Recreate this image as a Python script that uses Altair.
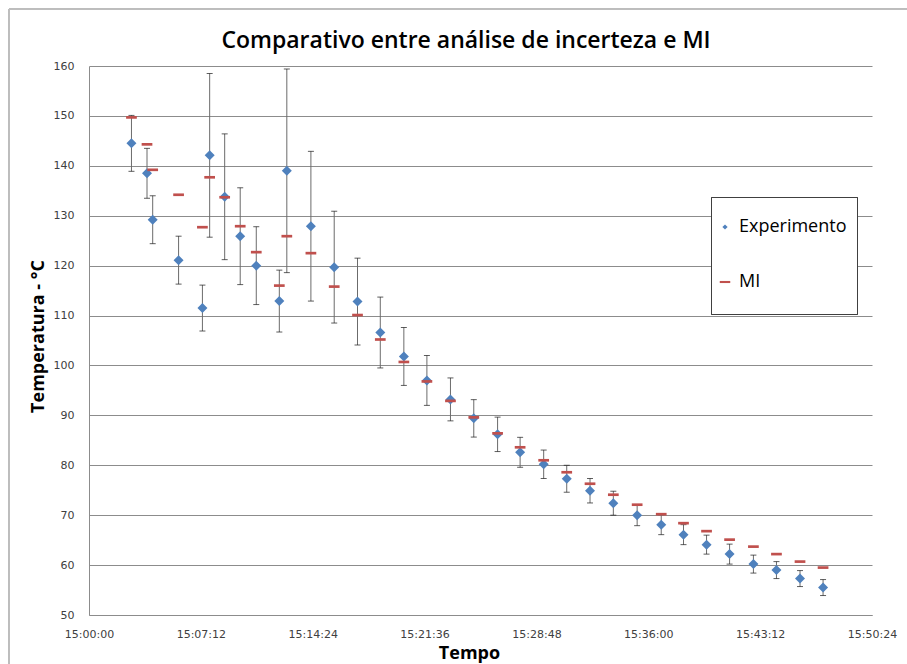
import altair as alt
import pandas as pd

# Sampling instants (clock time) of the cooling run
tempos = [
    "15:02:44", "15:03:44", "15:04:06", "15:05:46", "15:07:18", "15:07:46",
    "15:08:44", "15:09:44", "15:10:46", "15:12:15", "15:12:44", "15:14:17",
    "15:15:47", "15:17:17", "15:18:45", "15:20:16", "15:21:45", "15:23:16",
    "15:24:46", "15:26:18", "15:27:45", "15:29:16", "15:30:45", "15:32:15",
    "15:33:45", "15:35:17", "15:36:50", "15:38:16", "15:39:45", "15:41:14",
    "15:42:46", "15:44:15", "15:45:46", "15:47:15",
]

# Measured temperature (°C)
experimento = [
    144.5, 138.5, 129.2, 121.1, 111.5, 142.1, 133.8, 125.9, 120.0, 112.9,
    139.0, 127.9, 119.7, 112.8, 106.6, 101.8, 97.0, 93.2, 89.4, 86.2,
    82.6, 80.2, 77.3, 74.9, 72.4, 70.0, 68.1, 66.1, 64.1, 62.2,
    60.2, 59.0, 57.3, 55.5,
]

# Uncertainty (± °C) of each measurement
incerteza = [
    5.6, 5.0, 4.8, 4.8, 4.6, 16.4, 12.6, 9.7, 7.8, 6.2,
    20.4, 15.0, 11.2, 8.7, 7.1, 5.8, 5.0, 4.3, 3.75, 3.45,
    3.0, 2.85, 2.7, 2.45, 2.4, 2.1, 2.0, 2.0, 1.9, 2.0,
    1.8, 1.7, 1.6, 1.6,
]

# Temperature indicated by the MI
mi = [
    149.7, 144.3, 139.2, 134.2, 127.7, 137.7, 133.7, 127.9, 122.7, 116.0,
    125.9, 122.5, 115.8, 110.1, 105.2, 100.7, 96.8, 92.9, 89.6, 86.4,
    83.6, 81.0, 78.6, 76.3, 74.1, 72.1, 70.2, 68.4, 66.8, 65.1,
    63.7, 62.2, 60.7, 59.5,
]

titulo = "Comparativo entre análise de incerteza e MI"
series = ["Experimento", "MI"]
series_colors = ["#4F81BD", "#C0504D"]

x_ticks = list(range(0, 3025, 432))     # 15:00:00 ... 15:50:24, every 7:12
y_ticks = list(range(50, 161, 10))


def to_seconds(hms):
    h, m, s = (int(p) for p in hms.split(":"))
    return (h - 15) * 3600 + m * 60 + s


df = pd.DataFrame({
    "tempo": tempos,
    "seg": [to_seconds(t) for t in tempos],
    "exp": experimento,
    "inc": incerteza,
    "mi": mi,
})
df["lo"] = df["exp"] - df["inc"]
df["hi"] = df["exp"] + df["inc"]

LABEL_FONT = "DejaVu Sans"
TITLE_FONT = "Open Sans"
GRID = "#8c8c8c"

time_label = (
    "'15:' + (floor(datum.value / 60) < 10 ? '0' : '') + floor(datum.value / 60)"
    " + ':' + (datum.value % 60 < 10 ? '0' : '') + (datum.value % 60)"
)

x_axis = alt.Axis(
    values=x_ticks, labelExpr=time_label, title="Tempo", grid=False, ticks=False,
    labelFont=LABEL_FONT, labelFontSize=11, labelColor="#404040", labelPadding=13,
    labelFlush=False, labelOverlap=False,
    domainColor=GRID, domainWidth=1,
    titleFont=TITLE_FONT, titleFontSize=18, titleFontWeight="bold", titleColor="#000000",
    titleX=380, titleY=43, titleAlign="center", titleBaseline="alphabetic",
)
y_axis = alt.Axis(
    values=y_ticks, title="Temperatura - °C", grid=True, gridColor=GRID, gridWidth=1,
    ticks=False, labelFont=LABEL_FONT, labelFontSize=11, labelColor="#404040",
    labelPadding=15, domainColor=GRID, domainWidth=1,
    titleFont=TITLE_FONT, titleFontSize=18, titleFontWeight="bold", titleColor="#000000",
    titleX=-46, titleY=270, titleAngle=-90, titleAlign="center", titleBaseline="alphabetic",
)
x_scale = alt.Scale(domain=[0, 3024], nice=False, zero=False)
y_scale = alt.Scale(domain=[50, 160], nice=False, zero=False)


def xenc():
    return alt.X("seg:Q", scale=x_scale, axis=x_axis)


def yenc(field):
    return alt.Y(f"{field}:Q", scale=y_scale, axis=y_axis)


base = alt.Chart(df)

# Error bars: stem plus end caps
stems = base.mark_rule(color="#6b6b6b", strokeWidth=1).encode(
    x=xenc(), y=yenc("lo"), y2="hi:Q"
)
cap_lo = base.mark_tick(orient="horizontal", size=6, thickness=1, color="#1a1a1a").encode(
    x=xenc(), y=yenc("lo")
)
cap_hi = base.mark_tick(orient="horizontal", size=6, thickness=1, color="#1a1a1a").encode(
    x=xenc(), y=yenc("hi")
)

diamonds = base.mark_point(
    shape="diamond", filled=True, size=100, color=series_colors[0], opacity=1
).encode(x=xenc(), y=yenc("exp"))

dashes = base.mark_point(
    shape="M-1,-0.25H1V0.25H-1Z", filled=True, size=115, color=series_colors[1], opacity=1
).encode(x=xenc(), y=yenc("mi"))

# Legend frame (white box with dark border)
legend_box = alt.Chart(df).mark_rect(
    fill="white", stroke="#404040", strokeWidth=1
).encode(
    x=alt.value(622.5), x2=alt.value(768.5), y=alt.value(131.5), y2=alt.value(248.5)
)

legend_def = alt.Legend(
    title=None, orient="none", legendX=627, legendY=152, padding=0,
    labelFont=TITLE_FONT, labelFontSize=18, labelColor="#000000",
    symbolSize=110, symbolStrokeWidth=0, labelOffset=5, rowPadding=37,
)
legend_layer = alt.Chart(df).transform_filter("false").mark_point(
    filled=True, opacity=1
).encode(
    color=alt.Color("serie:N", scale=alt.Scale(domain=series, range=series_colors),
                    legend=legend_def),
    shape=alt.Shape("serie:N", scale=alt.Scale(
        domain=series,
        range=["M-0.5,0L0,-0.5L0.5,0L0,0.5Z", "M-1,-0.2H1V0.2H-1Z"]),
        legend=legend_def),
)

# Chart title, drawn as text above the plot area
title_text = alt.Chart(pd.DataFrame({"t": [titulo]})).mark_text(
    font=TITLE_FONT, fontSize=23, fontWeight=600, color="#000000",
    align="center", baseline="alphabetic",
).encode(text="t:N", x=alt.value(377), y=alt.value(-18.5))

# Outer frame of the chart area
frame_left = alt.Chart(df).mark_rule(color="#bdbdbd", strokeWidth=1).encode(
    x=alt.value(-80), y=alt.value(-57), y2=alt.value(620)
)
frame_top = alt.Chart(df).mark_rule(color="#bdbdbd", strokeWidth=1).encode(
    x=alt.value(-80), x2=alt.value(830), y=alt.value(-57)
)

chart = alt.layer(
    frame_left, frame_top, title_text, legend_box, stems, cap_lo, cap_hi,
    diamonds, dashes, legend_layer
).properties(
    width=783,
    height=549,
    autosize=alt.AutoSizeParams(type="none"),
    padding={"left": 89, "top": 66, "right": 35, "bottom": 49},
    background="white",
).configure_view(stroke=None)

chart.save("out.html", embed_options={"renderer": "svg", "actions": False})
